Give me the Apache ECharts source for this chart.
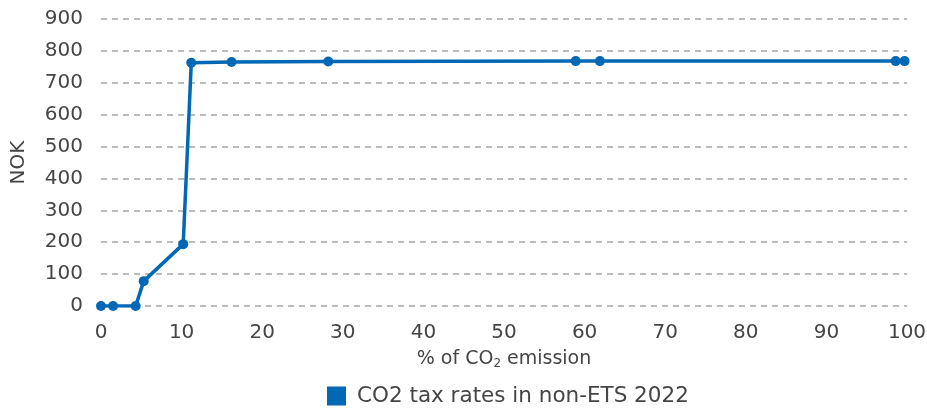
<!DOCTYPE html>
<html>
<head>
<meta charset="utf-8">
<script src="https://cdn.jsdelivr.net/npm/echarts@6/dist/echarts.min.js"></script>
<style>
  html, body { margin: 0; padding: 0; background: #fff; }
  #chart { width: 927px; height: 411px; }
</style>
</head>
<body>
<div id="chart"></div>
<script>
// share of CO2 emissions (%) and tax rate (NOK)
const emissionShare = [0, 1.5, 4.3, 5.3, 10.2, 11.2, 16.2, 28.2, 58.9, 61.9, 98.6, 99.7];
const taxRate = [0, 0, 0, 78, 194, 763, 765, 767, 768, 768, 768, 768];
const seriesName = 'CO2 tax rates in non-ETS 2022';

const blue = '#0068b4';
const textColor = '#454545';
const fontFamily = '"DejaVu Sans", sans-serif';

const chart = echarts.init(document.getElementById('chart'));

chart.setOption({
  animation: false,
  grid: { left: 101, right: 20, top: 19, bottom: 105, outerBoundsMode: 'none' },
  legend: {
    bottom: 0,
    left: 322,
    padding: [5, 5, 4, 5],
    icon: 'rect',
    itemWidth: 19,
    itemHeight: 19,
    textStyle: { color: textColor, fontSize: 21.5, fontFamily, padding: [0, 0, 0, 6] },
    data: [seriesName],
  },
  xAxis: {
    type: 'value',
    min: 0,
    max: 100,
    interval: 10,
    name: '{a|% of CO}{s|2}{a| emission}',
    nameLocation: 'middle',
    nameGap: 43,
    nameTextStyle: {
      rich: {
        a: { color: textColor, fontSize: 19, fontFamily },
        s: { color: textColor, fontSize: 12, fontFamily, padding: [9, 0, 0, 0] },
      },
    },
    axisLine: { show: false },
    axisTick: { show: false },
    splitLine: { show: false },
    axisLabel: { color: textColor, fontSize: 20, fontFamily, margin: 17 },
  },
  yAxis: {
    type: 'value',
    min: 0,
    max: 900,
    interval: 100,
    name: 'NOK',
    nameLocation: 'middle',
    nameGap: 72,
    nameRotate: 90,
    nameTextStyle: { color: textColor, fontSize: 20, fontFamily },
    axisLine: { show: false },
    axisTick: { show: false },
    axisLabel: { color: textColor, fontSize: 20, fontFamily, margin: 18 },
    splitLine: {
      lineStyle: { color: '#a6a6a6', type: [6, 5], width: 1.5 },
    },
  },
  series: [
    {
      name: seriesName,
      type: 'line',
      data: emissionShare.map((x, i) => [x, taxRate[i]]),
      symbol: 'circle',
      symbolSize: 10,
      itemStyle: { color: blue },
      lineStyle: { color: blue, width: 3.5 },
    },
  ],
});
</script>
</body>
</html>
